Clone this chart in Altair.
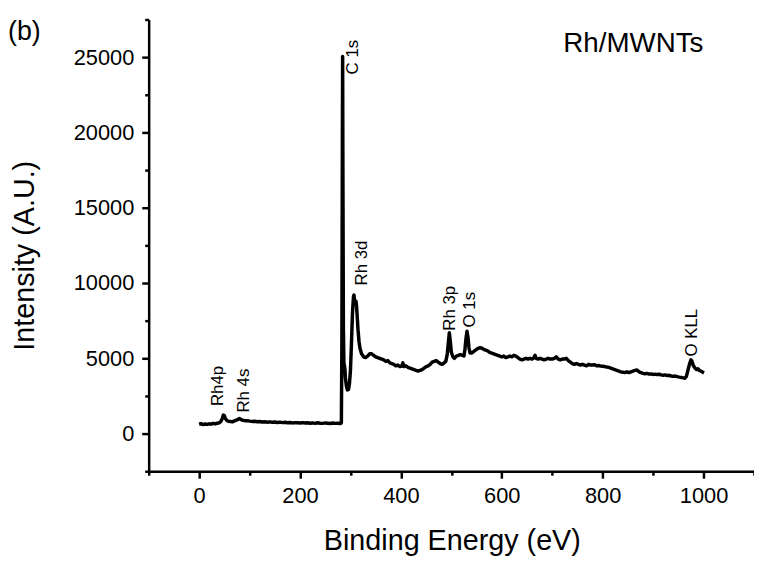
import altair as alt
import pandas as pd

# ---- spectrum ----
energy = [0, 4, 8, 12, 16, 20, 24, 28, 32, 36, 40, 43, 46, 48, 50, 52, 55, 58, 62, 66,
          70, 74, 78, 80, 82, 85, 88, 92, 96, 100, 105, 110, 115, 120, 125, 130, 135, 140,
          145, 150, 155, 160, 165, 170, 175, 180, 185, 190, 195, 200, 205, 210, 215, 220,
          225, 230, 235, 240, 245, 250, 255, 260, 265, 270, 275, 280, 282, 283, 284, 284.5,
          285, 286, 287, 288, 289, 290, 292, 294, 296, 298, 300, 302, 304, 306, 307, 308,
          309, 310, 311, 312, 313, 315, 317, 319, 322, 326, 330, 334, 338, 342, 346, 350,
          354, 358, 362, 366, 370, 374, 378, 382, 386, 390, 394, 398, 402, 404, 406, 410,
          414, 418, 422, 426, 430, 434, 438, 442, 446, 450, 454, 458, 462, 466, 470, 474,
          478, 482, 486, 489, 492, 494, 496, 498, 500, 503, 506, 510, 514, 518, 522, 525,
          527, 529, 531, 533, 535, 537, 540, 544, 548, 552, 556, 560, 564, 568, 572, 576,
          580, 584, 588, 592, 596, 600, 604, 608, 612, 616, 620, 624, 628, 632, 636, 640,
          644, 648, 652, 656, 660, 664, 666, 668, 672, 676, 680, 684, 688, 692, 696, 700,
          704, 708, 712, 716, 720, 724, 728, 732, 736, 740, 744, 748, 752, 756, 760, 764,
          768, 772, 776, 780, 784, 788, 792, 796, 800, 804, 808, 812, 816, 820, 824, 828,
          832, 836, 840, 844, 848, 852, 856, 860, 864, 868, 872, 876, 880, 884, 888, 892,
          896, 900, 904, 908, 912, 916, 920, 924, 928, 932, 936, 940, 944, 948, 952, 956,
          960, 963, 966, 969, 972, 975, 977, 980, 983, 986, 989, 992, 995, 998, 1001]
intensity = [620, 660, 600, 640, 610, 650, 630, 680, 640, 690, 720, 800, 1000, 1230, 1200, 1000, 870, 820, 800, 780,
             840, 900, 960, 1000, 960, 900, 880, 850, 860, 830, 810, 820, 790, 800, 770, 790, 760, 780,
             750, 770, 740, 760, 730, 750, 720, 740, 710, 730, 720, 700, 730, 700, 720, 690,
             710, 680, 720, 690, 680, 710, 690, 670, 700, 680, 690, 670, 720, 6000, 20000, 25050,
             18000, 7000, 4700, 4500, 4300, 3700, 3150, 2900, 2920, 3300, 4200, 6000, 8000, 9100, 9200, 8900,
             8600, 8650, 8800, 8500, 8000, 6900, 6100, 5650, 5300, 5100, 5050, 5150, 5300, 5300, 5200, 5100,
             5050, 5000, 4950, 4900, 4800, 4850, 4700, 4650, 4600, 4500, 4550, 4450, 4500, 4700, 4450, 4500,
             4400, 4350, 4300, 4250, 4200, 4150, 4200, 4250, 4350, 4450, 4500, 4600, 4750, 4800, 4850, 4750,
             4650, 4600, 4700, 4800, 5300, 6000, 6700, 6100, 5400, 5100, 5000, 5150, 5200, 5250, 5200, 5150,
             5600, 6300, 6800, 6400, 5700, 5350, 5350, 5450, 5550, 5650, 5700, 5680, 5600, 5550, 5500, 5400,
             5350, 5300, 5250, 5200, 5150, 5100, 5150, 5050, 5100, 5150, 5100, 5200, 5150, 5050, 4950, 4900,
             4950, 5000, 4950, 5000, 4950, 5050, 5200, 5000, 4950, 5000, 4950, 4900, 4950, 5000, 4950, 4950,
             5000, 5100, 4950, 4900, 4950, 4950, 5000, 4850, 4750, 4650, 4600, 4650, 4600, 4550, 4600, 4550,
             4500, 4600, 4550, 4550, 4570, 4500, 4520, 4480, 4470, 4450, 4420, 4400, 4350, 4300, 4250, 4200,
             4150, 4100, 4080, 4050, 4100, 4050, 4100, 4150, 4200, 4230, 4100, 4050, 4000, 3980, 4000, 3950,
             3960, 3930, 3950, 3920, 3940, 3900, 3880, 3900, 3850, 3870, 3820, 3800, 3820, 3780, 3750, 3730,
             3700, 3680, 3800, 4200, 4600, 4900, 4800, 4500, 4350, 4250, 4300, 4180, 4150, 4080, 4030]

# ---- peak labels ----
peak_labels = ["Rh4p", "Rh 4s", "C 1s", "Rh 3d", "Rh 3p", "O 1s", "O KLL"]
peak_x = [37, 90, 306, 322, 497, 538, 977]
peak_y = [1830, 1395, 23850, 9835, 6830, 7050, 5120]

# ---- axis ticks ----
x_ticks = [-100, 0, 100, 200, 300, 400, 500, 600, 700, 800, 900, 1000, 1100]
y_ticks = [-2500, 0, 2500, 5000, 7500, 10000, 12500, 15000, 17500, 20000, 22500, 25000, 27500]

FONT = "Liberation Sans"
W, H = 611, 456

spec = pd.DataFrame({"energy": energy, "intensity": intensity})
labels = pd.DataFrame({"label": peak_labels, "x": peak_x, "y": peak_y})

x_scale = alt.Scale(domain=[-100, 1100], nice=False, zero=False)
y_scale = alt.Scale(domain=[-2500, 27500], nice=False, zero=False)

x_axis = alt.Axis(
    values=x_ticks, orient="bottom", grid=False,
    labelExpr="datum.value % 200 === 0 && datum.value >= 0 && datum.value <= 1000 ? format(datum.value, 'd') : ''",
    tickSize={"condition": {"test": "datum.value % 200 === 0", "value": 7}, "value": 4},
    labelFlush=False, labelOverlap=False,
    title="Binding Energy (eV)", titleX=306, titleY=70, titleBaseline="middle",
    titleAlign="center", titleAnchor="middle",
)
y_axis = alt.Axis(
    values=y_ticks, orient="left", grid=False,
    labelExpr="datum.value % 5000 === 0 && datum.value >= 0 && datum.value <= 25000 ? format(datum.value, 'd') : ''",
    tickSize={"condition": {"test": "datum.value % 5000 === 0", "value": 7}, "value": 4},
    labelFlush=False, labelOverlap=False,
    title="Intensity (A.U.)", titleX=-125, titleY=238, titleBaseline="middle",
    titleAlign="center", titleAngle=270,
)

line = alt.Chart(spec).mark_line(color="black", strokeWidth=3.5, strokeJoin="round").encode(
    x=alt.X("energy:Q", scale=x_scale, axis=x_axis),
    y=alt.Y("intensity:Q", scale=y_scale, axis=y_axis),
)

ann = alt.Chart(labels).mark_text(
    angle=270, align="left", baseline="middle", font=FONT, fontSize=17, color="black"
).encode(
    x=alt.X("x:Q", scale=x_scale, axis=x_axis),
    y=alt.Y("y:Q", scale=y_scale, axis=y_axis),
    text="label:N",
)

panel = alt.Chart(pd.DataFrame({"t": ["(b)"]})).mark_text(
    align="left", baseline="alphabetic", font=FONT, fontSize=27, color="black"
).encode(x=alt.value(-142), y=alt.value(20.5), text="t:N")

sample = alt.Chart(pd.DataFrame({"t": ["Rh/MWNTs"]})).mark_text(
    align="right", baseline="alphabetic", font=FONT, fontSize=28, color="black"
).encode(x=alt.value(560), y=alt.value(33), text="t:N")

chart = alt.layer(line, ann, panel, sample).properties(
    width=W, height=H,
    autosize=alt.AutoSizeParams(type="none"),
    padding={"left": 142, "top": 9, "right": 0, "bottom": 88},
).configure_view(stroke=None).configure_axis(
    domainColor="black", domainWidth=2.5, tickColor="black", tickWidth=2.5,
    labelFont=FONT, labelFontSize=22, labelColor="black", labelPadding=8,
    titleFont=FONT, titleFontSize=29, titleColor="black", titleFontWeight="normal",
)

chart.save("out.html", embed_options={"renderer": "svg", "actions": False})
